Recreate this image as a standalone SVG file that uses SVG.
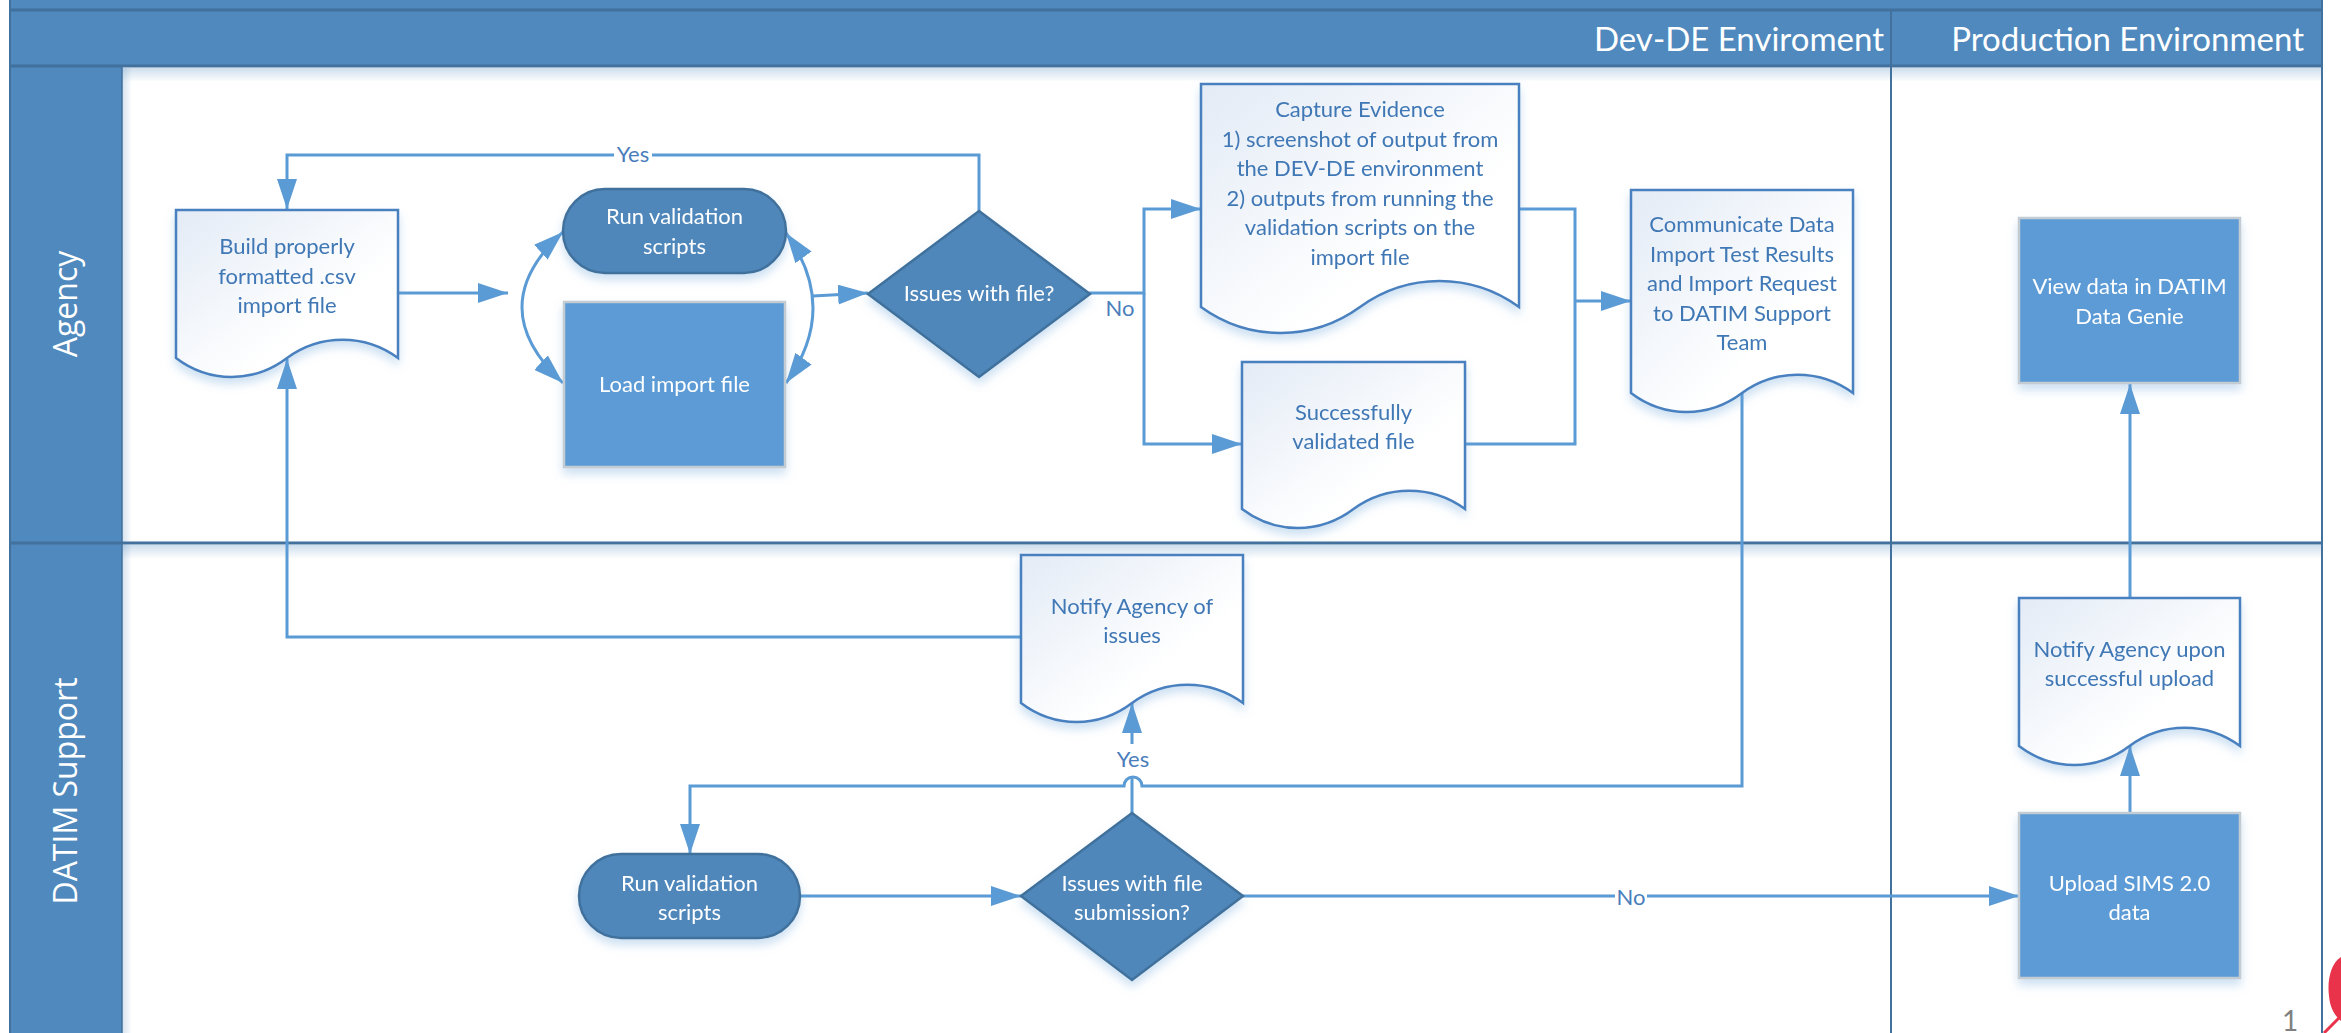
<svg xmlns="http://www.w3.org/2000/svg" width="2341" height="1033" viewBox="0 0 2341 1033">
<defs>
  <linearGradient id="docGrad" x1="0" y1="0" x2="1" y2="1">
    <stop offset="0" stop-color="#E3EBF6"/>
    <stop offset="0.65" stop-color="#FFFFFF"/>
  </linearGradient>
  <linearGradient id="shadeV" x1="0" y1="0" x2="0" y2="1">
    <stop offset="0" stop-color="#4F89BD" stop-opacity="0.28"/>
    <stop offset="1" stop-color="#4F89BD" stop-opacity="0"/>
  </linearGradient>
  <linearGradient id="shadeH" x1="0" y1="0" x2="1" y2="0">
    <stop offset="0" stop-color="#4F89BD" stop-opacity="0.25"/>
    <stop offset="1" stop-color="#4F89BD" stop-opacity="0"/>
  </linearGradient>
  <filter id="sh" x="-10%" y="-10%" width="125%" height="140%">
    <feDropShadow dx="0" dy="6" stdDeviation="5" flood-color="#5B9BD5" flood-opacity="0.3"/>
  </filter>
  <marker id="ah" viewBox="0 0 30 20" refX="30" refY="10" markerWidth="30" markerHeight="20" markerUnits="userSpaceOnUse" orient="auto-start-reverse">
    <path d="M0,0 L30,10 L0,20 Z" fill="#5B9BD5"/>
  </marker>
</defs>
<style>
  .conn{fill:none;stroke:#5B9BD5;stroke-width:3}
  .arr{marker-end:url(#ah)}
  .txt{font-family:Lato,"Liberation Sans",sans-serif;font-size:22px;text-anchor:middle}
  .wt{fill:#FFFFFF}
  .dt{fill:#3F77B5}
  .lbl{fill:#4A7EBB}
  .doc{fill:url(#docGrad);stroke:#4A80BF;stroke-width:2.5}
  .dark{fill:#4F87BB;stroke:#41719C;stroke-width:2.5}
  .proc{fill:#5B9BD5;stroke:#C3CBD3;stroke-width:2.5}
  .lane{font-family:"Open Sans","DejaVu Sans",sans-serif;font-size:32px;fill:#FFFFFF;text-anchor:middle}
  .phase{font-family:Lato,"Liberation Sans",sans-serif;font-size:33px;fill:#FFFFFF;text-anchor:end}
  .bar{fill:#4F89BD}
  .ln{stroke:#41719C;fill:none}
</style>

<g id="pool">
  <rect x="0" y="0" width="2341" height="1033" fill="#FFFFFF"/>
  <rect class="bar" x="10" y="0" width="2312" height="67"/>
  <rect class="bar" x="10" y="67" width="112" height="966"/>
  <rect x="122" y="68" width="2200" height="14" fill="url(#shadeV)"/>
  <rect x="122" y="545" width="2200" height="14" fill="url(#shadeV)"/>
  <rect x="122" y="68" width="10" height="965" fill="url(#shadeH)"/>
  <line class="ln" x1="10" y1="10" x2="2322" y2="10" stroke-width="3"/>
  <line class="ln" x1="10" y1="66" x2="2322" y2="66" stroke-width="3"/>
  <line class="ln" x1="10" y1="543" x2="2322" y2="543" stroke-width="3"/>
  <line class="ln" x1="10" y1="0" x2="10" y2="1033" stroke-width="2"/>
  <line class="ln" x1="2322" y1="0" x2="2322" y2="1033" stroke-width="2"/>
  <line class="ln" x1="122" y1="66" x2="122" y2="1033" stroke-width="1.5"/>
  <line class="ln" x1="1891" y1="10" x2="1891" y2="1033" stroke-width="2"/>
  <text class="phase" x="1884" y="51">Dev-DE Enviroment</text>
  <text class="phase" x="2304" y="51">Production Environment</text>
  <text class="lane" transform="translate(77,304) rotate(-90)">Agency</text>
  <text class="lane" transform="translate(77,791) rotate(-90)">DATIM Support</text>
</g>

<g id="connectors">
  <path class="conn arr" d="M398,293 H508"/>
  <path class="conn" d="M563,232 Q481,307 563,383" marker-start="url(#ah)" marker-end="url(#ah)"/>
  <path class="conn" d="M786,233 Q840,308 786,383" marker-start="url(#ah)" marker-end="url(#ah)"/>
  <path class="conn arr" d="M813,296 L868,293"/>
  <path class="conn arr" d="M979,211 V155 H287 V209"/>
  <rect x="614" y="142" width="38" height="26" fill="#FFFFFF"/>
  <text class="txt lbl" x="633" y="162">Yes</text>
  <path class="conn arr" d="M1089,293 H1144 V209 H1201"/>
  <path class="conn arr" d="M1144,293 V444 H1242"/>
  <text class="txt lbl" x="1120" y="316">No</text>
  <path class="conn" d="M1519,209 H1575 V444 H1465"/>
  <path class="conn arr" d="M1575,301 H1631"/>
  <path class="conn arr" d="M1742,393 V786 H1142 a9,9 0 0 0 -18,0 H690 V854"/>
  <path class="conn arr" d="M800,896 H1021"/>
  <path class="conn arr" d="M1132,813 V776 M1132,744 V703"/>
  <text class="txt lbl" x="1133" y="767">Yes</text>
  <path class="conn arr" d="M1242,896 H2019"/>
  <rect x="1615" y="884" width="32" height="26" fill="#FFFFFF"/>
  <text class="txt lbl" x="1631" y="905">No</text>
  <path class="conn arr" d="M2130,813 V746"/>
  <path class="conn arr" d="M2130,598 V384"/>
  <path class="conn arr" d="M1021,637 H287 V359"/>
</g>

<g id="build-file" filter="url(#sh)">
  <path class="doc" d="M176,210 H398 V358 C364.7,333.7 320.3,333.7 287,358 C253.7,383.3 209.3,383.3 176,358 Z"/>
  <text class="txt dt" x="287" y="254">Build properly</text>
  <text class="txt dt" x="287" y="283.5">formatted .csv</text>
  <text class="txt dt" x="287" y="313">import file</text>
</g>

<g id="run-validation-agency" filter="url(#sh)">
  <rect class="dark" x="563" y="189" width="223" height="84" rx="42" ry="42"/>
  <text class="txt wt" x="674.5" y="224">Run validation</text>
  <text class="txt wt" x="674.5" y="254">scripts</text>
</g>

<g id="load-import" filter="url(#sh)">
  <rect class="proc" x="564" y="302" width="221" height="165"/>
  <text class="txt wt" x="674.5" y="392">Load import file</text>
</g>

<g id="issues-file" filter="url(#sh)">
  <path class="dark" d="M979,211 L1090,294 L979,377 L868,294 Z"/>
  <text class="txt wt" x="979" y="301">Issues with file?</text>
</g>

<g id="capture-evidence" filter="url(#sh)">
  <path class="doc" d="M1201,84 H1519 V307 C1471.3,272.4 1407.7,272.4 1360,307 C1312.3,341.6 1248.7,341.6 1201,307 Z"/>
  <text class="txt dt" x="1360" y="117">Capture Evidence</text>
  <text class="txt dt" x="1360" y="146.6">1) screenshot of output from</text>
  <text class="txt dt" x="1360" y="176.2">the DEV-DE environment</text>
  <text class="txt dt" x="1360" y="205.8">2) outputs from running the</text>
  <text class="txt dt" x="1360" y="235.4">validation scripts on the</text>
  <text class="txt dt" x="1360" y="265">import file</text>
</g>

<g id="successfully-validated" filter="url(#sh)">
  <path class="doc" d="M1242,362 H1465 V509 C1431.6,484.7 1386.9,484.7 1353.5,509 C1320.1,534.3 1275.4,534.3 1242,509 Z"/>
  <text class="txt dt" x="1353.5" y="420">Successfully</text>
  <text class="txt dt" x="1353.5" y="449">validated file</text>
</g>

<g id="communicate" filter="url(#sh)">
  <path class="doc" d="M1631,190 H1853 V393 C1819.7,368.7 1775.3,368.7 1742,393 C1708.7,418.3 1664.3,418.3 1631,393 Z"/>
  <text class="txt dt" x="1742" y="232">Communicate Data</text>
  <text class="txt dt" x="1742" y="261.5">Import Test Results</text>
  <text class="txt dt" x="1742" y="291">and Import Request</text>
  <text class="txt dt" x="1742" y="320.5">to DATIM Support</text>
  <text class="txt dt" x="1742" y="350">Team</text>
</g>

<g id="view-data" filter="url(#sh)">
  <rect class="proc" x="2019" y="218" width="221" height="165"/>
  <text class="txt wt" x="2129.5" y="294">View data in DATIM</text>
  <text class="txt wt" x="2129.5" y="324">Data Genie</text>
</g>

<g id="notify-issues" filter="url(#sh)">
  <path class="doc" d="M1021,555 H1243 V703 C1209.7,678.7 1165.3,678.7 1132,703 C1098.7,728.3 1054.3,728.3 1021,703 Z"/>
  <text class="txt dt" x="1132" y="614">Notify Agency of</text>
  <text class="txt dt" x="1132" y="643">issues</text>
</g>

<g id="run-validation-datim" filter="url(#sh)">
  <rect class="dark" x="579" y="854" width="221" height="84" rx="42" ry="42"/>
  <text class="txt wt" x="689.5" y="891">Run validation</text>
  <text class="txt wt" x="689.5" y="920">scripts</text>
</g>

<g id="issues-submission" filter="url(#sh)">
  <path class="dark" d="M1132,813 L1243,896 L1132,980 L1021,896 Z"/>
  <text class="txt wt" x="1132" y="891">Issues with file</text>
  <text class="txt wt" x="1132" y="920">submission?</text>
</g>

<g id="notify-upload" filter="url(#sh)">
  <path class="doc" d="M2019,598 H2240 V746 C2206.9,721.7 2162.6,721.7 2129.5,746 C2096.4,771.3 2052.1,771.3 2019,746 Z"/>
  <text class="txt dt" x="2129.5" y="657">Notify Agency upon</text>
  <text class="txt dt" x="2129.5" y="686">successful upload</text>
</g>

<g id="upload-sims" filter="url(#sh)">
  <rect class="proc" x="2019" y="813" width="221" height="165"/>
  <text class="txt wt" x="2129.5" y="891">Upload SIMS 2.0</text>
  <text class="txt wt" x="2129.5" y="920">data</text>
</g>

<g id="page-corner">
  <text x="2290" y="1031" font-family="Lato,'Liberation Sans',sans-serif" font-size="28" fill="#808080" text-anchor="middle">1</text>
  <path d="M2341,957 C2331,963 2327,980 2329,996 C2330,1008 2335,1016 2341,1021 Z" fill="#E8334A"/>
  <path d="M2341,1016 L2324,1033" stroke="#E8334A" stroke-width="3" fill="none"/>
</g>
</svg>
